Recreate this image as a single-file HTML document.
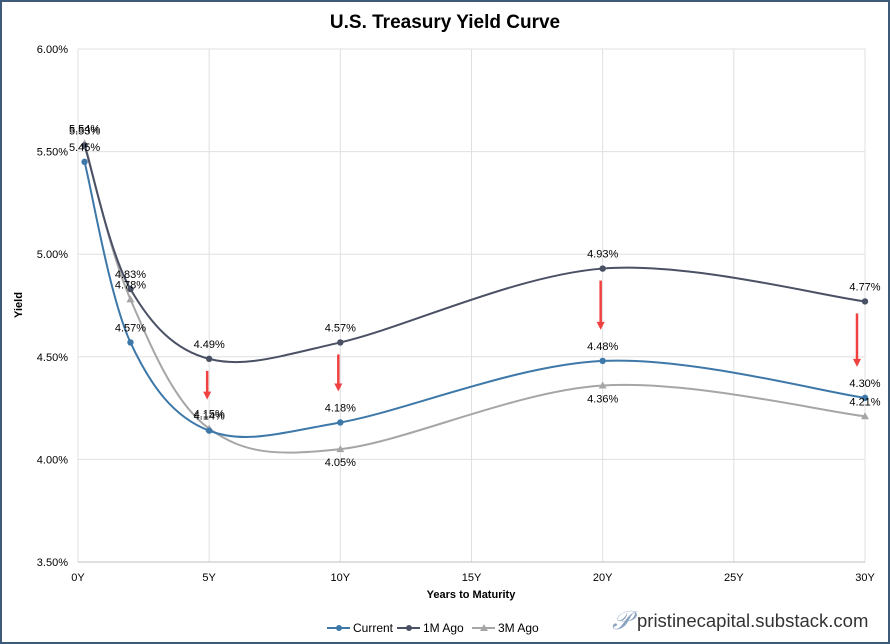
<!DOCTYPE html>
<html><head><meta charset="utf-8"><style>
body{margin:0;background:#fff}
svg{display:block;font-family:"Liberation Sans",Arial,sans-serif}
</style></head><body>
<svg id="c" width="890" height="644" viewBox="0 0 890 644">
<rect x="1" y="1" width="888" height="642" fill="#fff" stroke="#3d5a78" stroke-width="2"/>
<text x="445" y="28" text-anchor="middle" font-size="19" font-weight="bold" fill="#000">U.S. Treasury Yield Curve</text>
<g id="grid"></g>
<g id="arrows"></g>
<g id="series"></g>
<g id="labels"></g>
<text x="22" y="305" font-size="11" font-weight="bold" transform="rotate(-90 22 305)" text-anchor="middle">Yield</text>
<text x="471" y="598" font-size="11" font-weight="bold" text-anchor="middle">Years to Maturity</text>
<g font-size="12">
<g><line x1="327" y1="628" x2="350" y2="628" stroke="#3d78a8" stroke-width="2"/><circle cx="339" cy="628" r="3" fill="#3d78a8"/><text x="353" y="632">Current</text></g>
<g><line x1="397" y1="628" x2="420" y2="628" stroke="#4a5164" stroke-width="2"/><circle cx="409" cy="628" r="3" fill="#4a5164"/><text x="423" y="632">1M Ago</text></g>
<g><line x1="472" y1="628" x2="495" y2="628" stroke="#a6a6a6" stroke-width="2"/><polygon points="484,624 488,631 480,631" fill="#a6a6a6"/><text x="498" y="632">3M Ago</text></g>
</g>
<g>
<text x="612" y="629" font-size="26" font-family="Liberation Serif,serif" font-style="italic" fill="#8aa3c0">𝒫</text>
<text x="637" y="627" font-size="18.5" fill="#333">pristinecapital.substack.com</text>
</g>
</svg>
<script>
const maturities=[0.25,2,5,10,20,30];
const current=[5.45,4.57,4.14,4.18,4.48,4.30];
const m1=[5.53,4.83,4.49,4.57,4.93,4.77];
const m3=[5.54,4.78,4.15,4.05,4.36,4.21];
const xTicks=[0,5,10,15,20,25,30];
const xTickLabels=["0Y","5Y","10Y","15Y","20Y","25Y","30Y"];
const yTicks=[3.5,4.0,4.5,5.0,5.5,6.0];
const NS="http://www.w3.org/2000/svg";
const X0=78,X1=865,Y0=562,Y1=49;
const xs=v=>X0+(v-0)/30*(X1-X0);
const ys=v=>Y0-(v-3.5)/2.5*(Y0-Y1);
function mk(t,a,p){const e=document.createElementNS(NS,t);for(const k in a)e.setAttribute(k,a[k]);p.appendChild(e);return e;}
const grid=document.getElementById('grid');
yTicks.forEach(v=>{
const l=mk('line',{x1:X0,x2:X1,y1:ys(v),y2:ys(v),stroke:'#e0e0e0'},grid);


const t=mk('text',{x:X0-10,y:ys(v)+4,'text-anchor':'end','font-size':11},grid);
t.textContent=v.toFixed(2)+'%';


});
xTicks.forEach((v,i)=>{
const l=mk('line',{x1:xs(v),x2:xs(v),y1:Y1,y2:Y0,stroke:'#e0e0e0'},grid);


const t=mk('text',{x:xs(v),y:Y0+19,'text-anchor':'middle','font-size':11},grid);
t.textContent=xTickLabels[i];


});
mk('line',{x1:X0,x2:X1,y1:Y0,y2:Y0,stroke:'#bfbfbf'},grid);
function smooth(pts){
let d=`M${pts[0][0]},${pts[0][1]}`;
for(let i=0;i<pts.length-1;i++){
const p0=pts[i-1]||pts[i],p1=pts[i],p2=pts[i+1],p3=pts[i+2]||p2;
const c1=[p1[0]+(p2[0]-p0[0])/6,p1[1]+(p2[1]-p0[1])/6];
const c2=[p2[0]-(p3[0]-p1[0])/6,p2[1]-(p3[1]-p1[1])/6];
d+=`C${c1[0]},${c1[1]} ${c2[0]},${c2[1]} ${p2[0]},${p2[1]}`;}
return d;}
const sg=document.getElementById('series'),lg=document.getElementById('labels');
const defs=[
{vals:m3,col:'#a6a6a6',name:'3m-ago',tri:true,below:[false,false,false,true,true,false]},
{vals:current,col:'#3d78a8',name:'current',tri:false,below:[false,false,false,false,false,false]},
{vals:m1,col:'#4a5164',name:'1m-ago',tri:false,below:[false,false,false,false,false,false]}];
defs.forEach(s=>{
const pts=s.vals.map((v,i)=>[xs(maturities[i]),ys(v)]);
const p=mk('path',{d:smooth(pts),fill:'none',stroke:s.col,'stroke-width':2},sg);


pts.forEach((q,i)=>{
let m;
if(s.tri)m=mk('polygon',{points:`${q[0]},${q[1]-4} ${q[0]+4},${q[1]+3} ${q[0]-4},${q[1]+3}`,fill:s.col},sg);
else m=mk('circle',{cx:q[0],cy:q[1],r:3.2,fill:s.col},sg);


const t=mk('text',{x:q[0],y:s.below[i]?q[1]+17:q[1]-11,'text-anchor':'middle','font-size':11},lg);
t.textContent=s.vals[i].toFixed(2)+'%';


});});
const ag=document.getElementById('arrows');
[2,3,4,5].forEach(i=>{
const x=xs(maturities[i])-(i===5?8:2), ya=ys(m1[i])+12, yb=ys(current[i])-31;
const l=mk('line',{x1:x,x2:x,y1:ya,y2:yb-6,stroke:'#f04040','stroke-width':2.5},ag);


mk('polygon',{points:`${x-4},${yb-8} ${x+4},${yb-8} ${x},${yb}`,fill:'#f04040'},ag);
});
</script>
</body></html>
